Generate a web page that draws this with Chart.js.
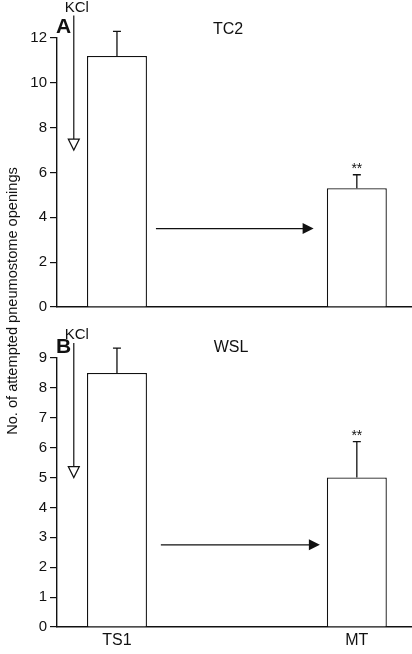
<!DOCTYPE html>
<html>
<head>
<meta charset="utf-8">
<script src="https://cdn.jsdelivr.net/npm/chart.js@4.4.1/dist/chart.umd.min.js"></script>
<style>
  html, body { margin: 0; padding: 0; background: #fff; }
  #wrap { position: relative; width: 412px; height: 654px; overflow: hidden; }
  canvas { position: absolute; left: 0; }
  #chartA { top: 0; }
  #chartB { top: 320px; }
  #yTitle {
    position: absolute; width: 320px; left: -148px; top: 293px;
    text-align: center; font: 14.6px 'Liberation Sans', Arial, sans-serif; color: #111;
    transform: rotate(-90deg); white-space: nowrap;
  }
</style>
</head>
<body>
<div id="wrap">
  <canvas id="chartA" width="412" height="320"></canvas>
  <canvas id="chartB" width="412" height="334"></canvas>
  <div id="yTitle">No. of attempted pneumostome openings</div>
</div>
<script>
// ==========================================
// DATA
// ==========================================
const categories = ['TS1', 'MT'];
const categoryPos = [0, 1];

const valuesTC2 = [11.2, 5.3];
const errorsTC2 = [1.1, 0.6];
const valuesWSL = [8.5, 5.0];
const errorsWSL = [0.83, 1.2];
const signif = ['', '**'];

const ticksTC2 = [0, 2, 4, 6, 8, 10, 12];
const ticksWSL = [0, 1, 2, 3, 4, 5, 6, 7, 8, 9];

// KCl arrow: [x, yFrom, yTo] and horizontal arrow: [xFrom, xTo, y] in data units
const kclTC2 = [-0.18, 13.0, 7.0];
const kclWSL = [-0.18, 9.5, 5.0];
const flowTC2 = [0.1625, 0.82, 3.5];
const flowWSL = [0.183, 0.846, 2.75];

const FONT = "'Liberation Sans', Arial, sans-serif";
const INK = '#111';

// ==========================================
// ANNOTATION PLUGIN (error bars, arrows, labels)
// ==========================================
const annotations = {
    id: 'annotations',
    afterDatasetsDraw(chart, args, o) {
        const { ctx, scales: { x, y } } = chart;
        const meta = chart.getDatasetMeta(0);
        ctx.save();
        ctx.strokeStyle = INK;
        ctx.fillStyle = INK;
        ctx.lineWidth = 1.3;

        // error bars + significance marks
        o.errors.forEach((e, i) => {
            const bar = meta.data[i];
            const top = y.getPixelForValue(o.values[i] + e);
            ctx.beginPath();
            ctx.moveTo(bar.x, bar.y);
            ctx.lineTo(bar.x, top);
            ctx.moveTo(bar.x - 4, top);
            ctx.lineTo(bar.x + 4, top);
            ctx.stroke();
            if (o.marks[i]) {
                ctx.font = `14px ${FONT}`;
                ctx.textAlign = 'center';
                ctx.textBaseline = 'alphabetic';
                ctx.fillText(o.marks[i], bar.x, top - 2);
            }
        });

        // KCl arrow (open head)
        const kx = x.getPixelForValue(o.kcl[0]);
        const ky0 = y.getPixelForValue(o.kcl[1]);
        const ky1 = y.getPixelForValue(o.kcl[2]);
        ctx.lineWidth = 1.2;
        ctx.beginPath();
        ctx.moveTo(kx, ky0);
        ctx.lineTo(kx, ky1 - 11);
        ctx.stroke();
        ctx.beginPath();
        ctx.moveTo(kx - 5.5, ky1 - 11);
        ctx.lineTo(kx + 5.5, ky1 - 11);
        ctx.lineTo(kx, ky1);
        ctx.closePath();
        ctx.fillStyle = '#fff';
        ctx.fill();
        ctx.stroke();
        ctx.fillStyle = INK;
        ctx.font = `15px ${FONT}`;
        ctx.textAlign = 'center';
        ctx.fillText('KCl', kx + 3, ky0 - 4);

        // horizontal arrow (filled head)
        const fx0 = x.getPixelForValue(o.flow[0]);
        const fx1 = x.getPixelForValue(o.flow[1]);
        const fy = y.getPixelForValue(o.flow[2]);
        ctx.lineWidth = 1.3;
        ctx.beginPath();
        ctx.moveTo(fx0, fy);
        ctx.lineTo(fx1 - 10, fy);
        ctx.stroke();
        ctx.beginPath();
        ctx.moveTo(fx1 - 11, fy - 5.5);
        ctx.lineTo(fx1, fy);
        ctx.lineTo(fx1 - 11, fy + 5.5);
        ctx.closePath();
        ctx.fill();

        // panel letter + title
        ctx.font = `bold 21px ${FONT}`;
        ctx.textAlign = 'left';
        ctx.fillText(o.letter, 56, 33);
        ctx.font = `16px ${FONT}`;
        ctx.textAlign = 'center';
        ctx.fillText(o.title, o.titleX, o.titleY);
        ctx.restore();
    }
};

// ==========================================
// CHART BUILDER
// ==========================================
function makePanel(id, values, errors, ticks, opts) {
    const canvas = document.getElementById(id);
    const tickSet = ticks.map(v => ({ value: v }));
    return new Chart(canvas, {
        type: 'bar',
        data: {
            datasets: [{
                data: values.map((v, i) => ({ x: categoryPos[i], y: v })),
                backgroundColor: '#fff',
                borderColor: INK,
                borderWidth: 1.3,
                borderSkipped: 'start',
                categoryPercentage: 1,
                barPercentage: 0.25
            }]
        },
        options: {
            responsive: false,
            animation: false,
            events: [],
            layout: { padding: { top: 38, right: 0, left: 0, bottom: 0 } },
            plugins: {
                legend: { display: false },
                tooltip: { enabled: false },
                annotations: {
                    values, errors, marks: signif,
                    kcl: opts.kcl, flow: opts.flow,
                    letter: opts.letter, title: opts.title,
                    titleX: opts.titleX, titleY: opts.titleY
                }
            },
            scales: {
                x: {
                    type: 'linear',
                    min: -0.25,
                    max: 1.23,
                    offset: false,
                    afterBuildTicks: (s) => { s.ticks = categoryPos.map(v => ({ value: v })); },
                    afterFit: (s) => { s.height = canvas.height - 307; },
                    grid: { display: true, drawOnChartArea: false, drawTicks: false },
                    border: { display: true, color: INK, width: 1.6 },
                    ticks: {
                        display: opts.showX,
                        padding: 4,
                        color: INK,
                        font: { family: FONT, size: 16 },
                        callback: (v) => categories[categoryPos.indexOf(v)] ?? ''
                    }
                },
                y: {
                    min: 0,
                    max: ticks[ticks.length - 1],
                    afterBuildTicks: (s) => { s.ticks = tickSet; },
                    afterFit: (s) => { s.width = 57; },
                    grid: { drawOnChartArea: false, drawTicks: true, tickLength: 7, color: INK, lineWidth: 1.2 },
                    border: { display: true, color: INK, width: 1.4 },
                    ticks: { padding: 3, color: INK, font: { family: FONT, size: 15 } }
                }
            }
        },
        plugins: [annotations]
    });
}

makePanel('chartA', valuesTC2, errorsTC2, ticksTC2, {
    kcl: kclTC2, flow: flowTC2, letter: 'A', title: 'TC2', titleX: 228, titleY: 34, showX: false
});
makePanel('chartB', valuesWSL, errorsWSL, ticksWSL, {
    kcl: kclWSL, flow: flowWSL, letter: 'B', title: 'WSL', titleX: 231, titleY: 32, showX: true
});
</script>
</body>
</html>
